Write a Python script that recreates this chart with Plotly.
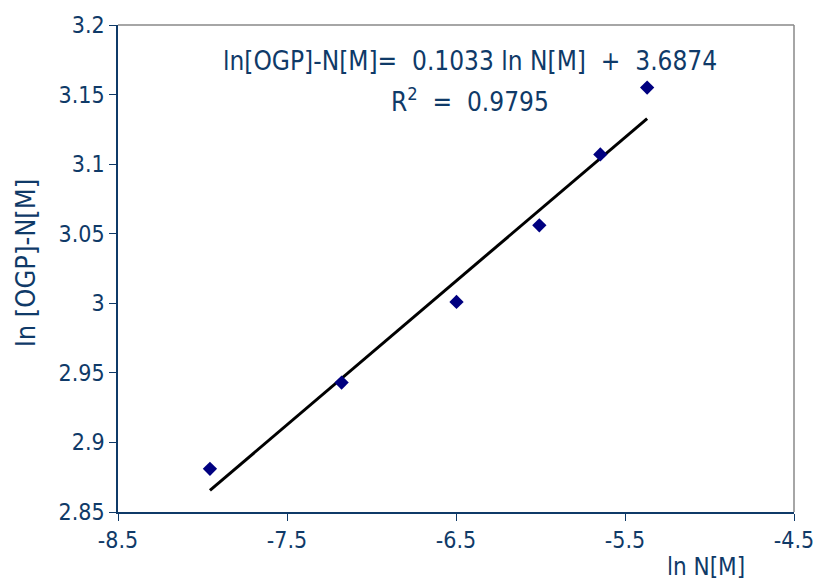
import plotly.graph_objects as go

# data
x_vals = [-7.956, -7.177, -6.497, -6.007, -5.646, -5.369]
y_vals = [2.881, 2.943, 3.001, 3.056, 3.107, 3.155]
slope = 0.1033
intercept = 3.6874
x_ticks = [-8.5, -7.5, -6.5, -5.5, -4.5]
y_ticks = [2.85, 2.9, 2.95, 3.0, 3.05, 3.1, 3.15, 3.2]
y_tick_labels = ["2.85", "2.9", "2.95", "3", "3.05", "3.1", "3.15", "3.2"]

txt = "#0f3a68"
font = "DejaVu Sans Condensed"

fit_x = [min(x_vals), max(x_vals)]
fit_y = [slope * v + intercept for v in fit_x]

fig = go.Figure()
fig.add_trace(go.Scatter(x=fit_x, y=fit_y, mode="lines",
                         line=dict(color="black", width=3), showlegend=False))
fig.add_trace(go.Scatter(x=x_vals, y=y_vals, mode="markers",
                         marker=dict(symbol="diamond", size=11, color="#000080"),
                         showlegend=False))

plot_w = 817 - 118 - 23
plot_h = 581 - 25 - 69

fig.update_layout(
    width=817, height=581,
    margin=dict(l=118, r=23, t=25, b=69),
    paper_bgcolor="white", plot_bgcolor="white",
    font=dict(family=font, size=23, color=txt),
    xaxis=dict(range=[-8.5, -4.5], tickvals=x_ticks, ticktext=[str(v) for v in x_ticks],
               showgrid=False, zeroline=False, showline=True, linecolor=txt, linewidth=1.5,
               ticks="outside", ticklen=7, tickcolor=txt, mirror=False,
               tickfont=dict(size=23), automargin=False),
    yaxis=dict(range=[2.85, 3.2], tickvals=y_ticks, ticktext=y_tick_labels,
               showgrid=False, zeroline=False, showline=True, linecolor=txt, linewidth=1.5,
               ticks="outside", ticklen=7, tickcolor=txt, tickfont=dict(size=23),
               automargin=False),
    shapes=[
        dict(type="line", xref="paper", yref="paper", x0=0, x1=1, y0=1, y1=1,
             line=dict(color="#888888", width=1.5)),
        dict(type="line", xref="paper", yref="paper", x0=1, x1=1, y0=0, y1=1,
             line=dict(color="#888888", width=1.5)),
    ],
    annotations=[
        dict(text="ln [OGP]-N[M]", x=(25 - 118) / plot_w, y=(581 - 69 - 263) / plot_h,
             xref="paper", yref="paper", xanchor="center", yanchor="middle",
             showarrow=False, textangle=-90, font=dict(size=27, color=txt)),
        dict(text="ln[OGP]-N[M]=  0.1033 ln N[M]  +  3.6874",
             x=0.52, y=0.926, xref="paper", yref="paper", xanchor="center", yanchor="middle",
             showarrow=False, font=dict(size=26, color=txt)),
        dict(text="R<sup>2</sup>  =  0.9795",
             x=0.52, y=0.845, xref="paper", yref="paper", xanchor="center", yanchor="middle",
             showarrow=False, font=dict(size=26, color=txt)),
        dict(text="ln N[M]", x=(706 - 118) / plot_w, y=(581 - 69 - 567) / plot_h,
             xref="paper", yref="paper", xanchor="center", yanchor="middle",
             showarrow=False, font=dict(size=24, color=txt)),
    ],
)

fig.write_html("out.html")
